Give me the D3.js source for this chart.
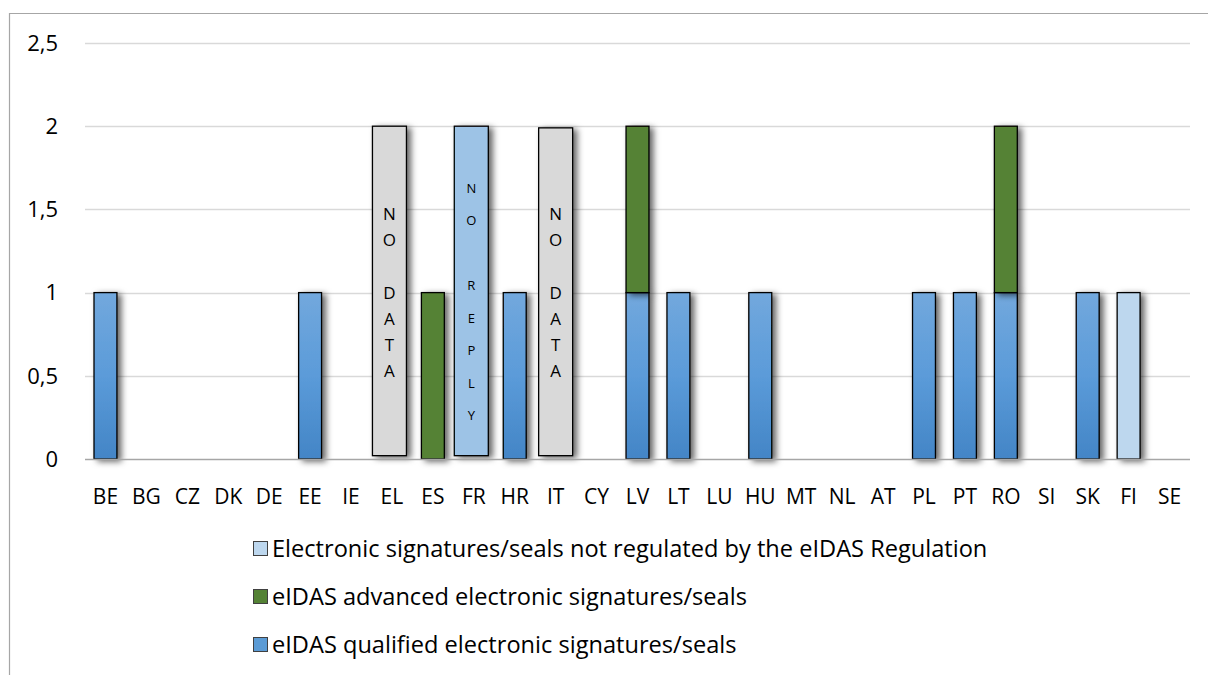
<!DOCTYPE html>
<html>
<head>
<meta charset="utf-8">
<script src="https://cdn.jsdelivr.net/npm/d3@7"></script>
<style>
  body { margin: 0; background: #fff; }
  text { font-family: "Open Sans", Lato, sans-serif; }
</style>
</head>
<body>
<script>

var categories = ["BE", "BG", "CZ", "DK", "DE", "EE", "IE", "EL", "ES", "FR", "HR", "IT", "CY", "LV",
  "LT", "LU", "HU", "MT", "NL", "AT", "PL", "PT", "RO", "SI", "SK", "FI", "SE"];

var qualified    = [1, 0, 0, 0, 0, 1, 0, 0, 0, 0, 1, 0, 0, 1, 1, 0, 1, 0, 0, 0, 1, 1, 1, 0, 1, 0, 0];
var advanced     = [0, 0, 0, 0, 0, 0, 0, 0, 1, 0, 0, 0, 0, 1, 0, 0, 0, 0, 0, 0, 0, 0, 1, 0, 0, 0, 0];
var notRegulated = [0, 0, 0, 0, 0, 0, 0, 0, 0, 0, 0, 0, 0, 0, 0, 0, 0, 0, 0, 0, 0, 0, 0, 0, 0, 1, 0];

// the wide marker bars (EL, IT no data, FR no reply)
var markerCats   = ["EL", "FR", "IT"];
var markerValues = [2, 2, 1.99];
var markerText   = ["NO DATA", "NO REPLY", "NO DATA"];

var yTicks = [0, 0.5, 1, 1.5, 2, 2.5];

var seriesNames = ["eIDAS qualified electronic signatures/seals",
  "eIDAS advanced electronic signatures/seals",
  "Electronic signatures/seals not regulated by the eIDAS Regulation"];

var W = 1208, H = 675;
var plotLeft = 85, plotRight = 1190, plotTop = 43, plotBottom = 459;

var svg = d3.select("body").append("svg")
  .attr("width", W)
  .attr("height", H);

var defs = svg.append("defs");

var shadow = defs.append("filter").attr("id", "shadow")
  .attr("x", "-40%").attr("y", "-10%").attr("width", "200%").attr("height", "130%");
shadow.append("feDropShadow")
  .attr("dx", 4).attr("dy", 2).attr("stdDeviation", 3)
  .attr("flood-color", "#000").attr("flood-opacity", 0.6);

var blueGrad = defs.append("linearGradient").attr("id", "blueGrad")
  .attr("x1", 0).attr("y1", 0).attr("x2", 0).attr("y2", 1);
blueGrad.append("stop").attr("offset", "0%").attr("stop-color", "#72a8dd");
blueGrad.append("stop").attr("offset", "50%").attr("stop-color", "#5b9bd9");
blueGrad.append("stop").attr("offset", "100%").attr("stop-color", "#4385c6");

var fills = ["url(#blueGrad)", "#548235", "#bdd7ee"];
var legendFills = ["#5b9bd5", "#548235", "#bdd7ee"];

// outer frame
svg.append("path")
  .attr("d", "M9.5," + H + "V13.5H" + W)
  .attr("fill", "none")
  .attr("stroke", "#a6a6a6")
  .attr("stroke-width", 1.2);

var x = d3.scaleBand().domain(categories).range([plotLeft, plotRight]).paddingInner(0.44).paddingOuter(0.22);
var y = d3.scaleLinear().domain([0, 2.5]).range([plotBottom, plotTop]);

// grid
svg.append("g").selectAll("line")
  .data(yTicks.slice(1))
  .enter().append("line")
  .attr("x1", plotLeft).attr("x2", plotRight)
  .attr("y1", function (d) { return Math.round(y(d)) + 0.5; })
  .attr("y2", function (d) { return Math.round(y(d)) + 0.5; })
  .attr("stroke", "#d9d9d9")
  .attr("stroke-width", 1.3);

// y tick labels
svg.append("g").selectAll("text")
  .data(yTicks)
  .enter().append("text")
  .attr("x", 58)
  .attr("y", function (d) { return y(d); })
  .attr("dy", "0.35em")
  .attr("text-anchor", "end")
  .attr("font-size", 22)
  .attr("fill", "#000")
  .text(function (d) { return String(d).replace(".", ","); });

// stacked data
var table = categories.map(function (c, i) {
  return { cat: c, q: qualified[i], a: advanced[i], n: notRegulated[i] };
});
var stack = d3.stack().keys(["q", "a", "n"]);
var layers = stack(table);

var barsG = svg.append("g");
layers.forEach(function (layer, li) {
  barsG.selectAll(null)
    .data(layer.filter(function (d) { return d[1] - d[0] > 0; }))
    .enter().append("rect")
    .attr("x", function (d) { return x(d.data.cat); })
    .attr("width", x.bandwidth())
    .attr("y", function (d) { return y(d[1]); })
    .attr("height", function (d) { return y(d[0]) - y(d[1]); })
    .attr("fill", fills[li])
    .attr("stroke", "#000")
    .attr("stroke-width", 1.3)
    .attr("filter", "url(#shadow)");
});

// wide marker bars, drawn a little left of the band centre as in the source
var wideW = 34;
var markers = markerCats.map(function (c, i) {
  return { cat: c, v: markerValues[i], label: markerText[i] };
});
var mg = svg.append("g").selectAll("g")
  .data(markers)
  .enter().append("g");

function markerCx(d) {
  return x(d.cat) + x.bandwidth() / 2 - (d.cat === "IT" ? 0 : 2.5);
}

mg.append("rect")
  .attr("x", function (d) { return markerCx(d) - wideW / 2; })
  .attr("width", wideW)
  .attr("y", function (d) { return y(d.v); })
  .attr("height", function (d) { return y(0.02) - y(d.v); })
  .attr("fill", function (d) { return d.label === "NO REPLY" ? "#9dc3e6" : "#d9d9d9"; })
  .attr("stroke", "#000")
  .attr("stroke-width", 1.3)
  .attr("filter", "url(#shadow)");

mg.each(function (d) {
  var g = d3.select(this);
  var cx = markerCx(d);
  var reply = d.label === "NO REPLY";
  var startY = reply ? 188 : 214;
  var step = reply ? 32.5 : 26.2;
  var fs = reply ? 13 : 17;
  var chars = d.label.split("");
  chars.forEach(function (ch, k) {
    if (ch === " ") return;
    g.append("text")
      .attr("x", cx)
      .attr("y", startY + k * step)
      .attr("dy", "0.35em")
      .attr("text-anchor", "middle")
      .attr("font-size", fs)
      .attr("fill", "#000")
      .text(ch);
  });
});

// baseline
svg.append("line")
  .attr("x1", plotLeft).attr("x2", plotRight)
  .attr("y1", plotBottom + 0.5).attr("y2", plotBottom + 0.5)
  .attr("stroke", "#a6a6a6")
  .attr("stroke-width", 1.3);

// x labels
svg.append("g").selectAll("text")
  .data(categories)
  .enter().append("text")
  .attr("x", function (d) { return x(d) + x.bandwidth() / 2; })
  .attr("y", 497)
  .attr("dy", "0.35em")
  .attr("text-anchor", "middle")
  .attr("font-size", 21)
  .attr("fill", "#000")
  .text(function (d) { return d; });

// legend (reverse order)
var legendRows = [2, 1, 0];
var lg = svg.append("g").selectAll("g")
  .data(legendRows)
  .enter().append("g")
  .attr("transform", function (d, i) { return "translate(253," + (549 + i * 48) + ")"; });

lg.append("rect")
  .attr("x", 0.5).attr("y", -7.5)
  .attr("width", 14).attr("height", 14)
  .attr("fill", function (d) { return legendFills[d]; })
  .attr("stroke", "#404040")
  .attr("stroke-width", 1);

lg.append("text")
  .attr("x", 19)
  .attr("y", 0)
  .attr("dy", "0.35em")
  .attr("font-size", 23.6)
  .attr("fill", "#000")
  .text(function (d) { return seriesNames[d]; });

</script>
</body>
</html>
